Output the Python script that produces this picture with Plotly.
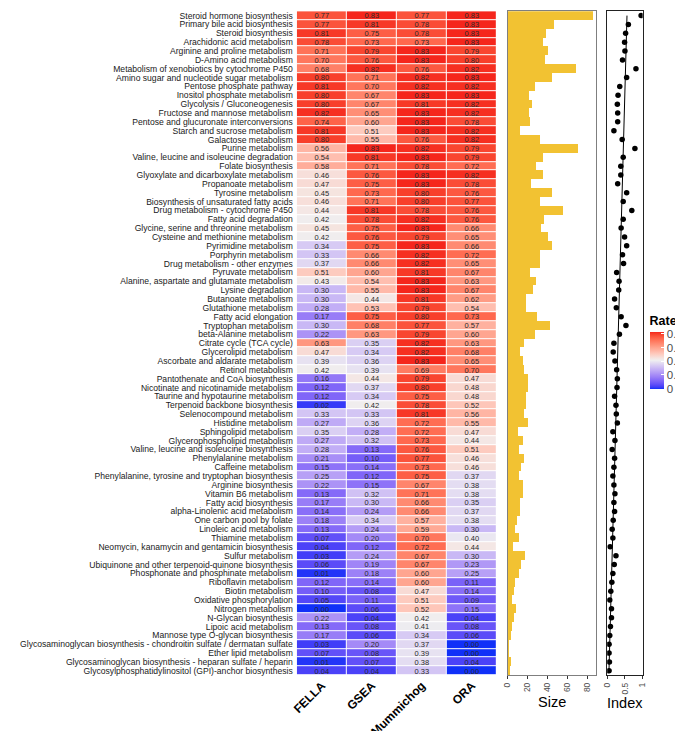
import numpy as np
import plotly.graph_objects as go

pathways = [
    "Steroid hormone biosynthesis", "Primary bile acid biosynthesis", "Steroid biosynthesis",
    "Arachidonic acid metabolism", "Arginine and proline metabolism", "D-Amino acid metabolism",
    "Metabolism of xenobiotics by cytochrome P450", "Amino sugar and nucleotide sugar metabolism",
    "Pentose phosphate pathway", "Inositol phosphate metabolism", "Glycolysis / Gluconeogenesis",
    "Fructose and mannose metabolism", "Pentose and glucuronate interconversions",
    "Starch and sucrose metabolism", "Galactose metabolism", "Purine metabolism",
    "Valine, leucine and isoleucine degradation", "Folate biosynthesis",
    "Glyoxylate and dicarboxylate metabolism", "Propanoate metabolism", "Tyrosine metabolism",
    "Biosynthesis of unsaturated fatty acids", "Drug metabolism - cytochrome P450",
    "Fatty acid degradation", "Glycine, serine and threonine metabolism",
    "Cysteine and methionine metabolism", "Pyrimidine metabolism", "Porphyrin metabolism",
    "Drug metabolism - other enzymes", "Pyruvate metabolism",
    "Alanine, aspartate and glutamate metabolism", "Lysine degradation", "Butanoate metabolism",
    "Glutathione metabolism", "Fatty acid elongation", "Tryptophan metabolism",
    "beta-Alanine metabolism", "Citrate cycle (TCA cycle)", "Glycerolipid metabolism",
    "Ascorbate and aldarate metabolism", "Retinol metabolism", "Pantothenate and CoA biosynthesis",
    "Nicotinate and nicotinamide metabolism", "Taurine and hypotaurine metabolism",
    "Terpenoid backbone biosynthesis", "Selenocompound metabolism", "Histidine metabolism",
    "Sphingolipid metabolism", "Glycerophospholipid metabolism",
    "Valine, leucine and isoleucine biosynthesis", "Phenylalanine metabolism",
    "Caffeine metabolism", "Phenylalanine, tyrosine and tryptophan biosynthesis",
    "Arginine biosynthesis", "Vitamin B6 metabolism", "Fatty acid biosynthesis",
    "alpha-Linolenic acid metabolism", "One carbon pool by folate", "Linoleic acid metabolism",
    "Thiamine metabolism", "Neomycin, kanamycin and gentamicin biosynthesis", "Sulfur metabolism",
    "Ubiquinone and other terpenoid-quinone biosynthesis",
    "Phosphonate and phosphinate metabolism", "Riboflavin metabolism", "Biotin metabolism",
    "Oxidative phosphorylation", "Nitrogen metabolism", "N-Glycan biosynthesis",
    "Lipoic acid metabolism", "Mannose type O-glycan biosynthesis",
    "Glycosaminoglycan biosynthesis - chondroitin sulfate / dermatan sulfate",
    "Ether lipid metabolism", "Glycosaminoglycan biosynthesis - heparan sulfate / heparin",
    "Glycosylphosphatidylinositol (GPI)-anchor biosynthesis",
]

methods = ["FELLA", "GSEA", "Mummichog", "ORA"]

fella = [0.77, 0.77, 0.81, 0.78, 0.71, 0.70, 0.68, 0.80, 0.81, 0.80, 0.80, 0.82, 0.74, 0.81, 0.80,
         0.56, 0.54, 0.58, 0.46, 0.47, 0.45, 0.46, 0.44, 0.42, 0.45, 0.42, 0.34, 0.33, 0.37, 0.51,
         0.43, 0.30, 0.30, 0.28, 0.17, 0.30, 0.22, 0.63, 0.47, 0.39, 0.42, 0.16, 0.12, 0.12, 0.02,
         0.33, 0.27, 0.35, 0.27, 0.28, 0.21, 0.15, 0.25, 0.22, 0.13, 0.17, 0.14, 0.18, 0.13, 0.07,
         0.04, 0.03, 0.06, 0.01, 0.12, 0.10, 0.05, 0.00, 0.22, 0.13, 0.17, 0.03, 0.07, 0.01, 0.04]
gsea = [0.83, 0.81, 0.75, 0.73, 0.79, 0.76, 0.82, 0.71, 0.70, 0.67, 0.67, 0.65, 0.60, 0.51, 0.55,
        0.83, 0.81, 0.71, 0.76, 0.75, 0.73, 0.71, 0.81, 0.78, 0.75, 0.76, 0.75, 0.66, 0.66, 0.60,
        0.54, 0.55, 0.44, 0.53, 0.75, 0.68, 0.63, 0.35, 0.34, 0.36, 0.39, 0.44, 0.37, 0.34, 0.42,
        0.33, 0.36, 0.28, 0.32, 0.13, 0.10, 0.14, 0.12, 0.15, 0.32, 0.30, 0.24, 0.34, 0.24, 0.20,
        0.12, 0.24, 0.19, 0.18, 0.14, 0.08, 0.11, 0.06, 0.04, 0.08, 0.06, 0.20, 0.08, 0.07, 0.04]
mummichog = [0.77, 0.78, 0.78, 0.73, 0.83, 0.83, 0.76, 0.82, 0.82, 0.83, 0.81, 0.83, 0.83, 0.83, 0.76,
             0.82, 0.83, 0.78, 0.83, 0.83, 0.80, 0.80, 0.78, 0.82, 0.83, 0.79, 0.83, 0.82, 0.82, 0.81,
             0.83, 0.83, 0.81, 0.79, 0.80, 0.77, 0.79, 0.82, 0.82, 0.83, 0.69, 0.79, 0.80, 0.75, 0.78,
             0.81, 0.72, 0.72, 0.73, 0.76, 0.77, 0.73, 0.75, 0.67, 0.71, 0.66, 0.66, 0.57, 0.59, 0.70,
             0.72, 0.67, 0.67, 0.60, 0.60, 0.47, 0.51, 0.52, 0.42, 0.41, 0.34, 0.37, 0.39, 0.38, 0.33]
ora = [0.83, 0.83, 0.83, 0.83, 0.79, 0.80, 0.82, 0.83, 0.82, 0.83, 0.82, 0.82, 0.78, 0.82, 0.82,
       0.79, 0.79, 0.72, 0.82, 0.78, 0.76, 0.77, 0.76, 0.76, 0.66, 0.65, 0.66, 0.72, 0.65, 0.67,
       0.63, 0.67, 0.62, 0.54, 0.73, 0.57, 0.60, 0.63, 0.68, 0.65, 0.70, 0.47, 0.48, 0.48, 0.52,
       0.56, 0.55, 0.47, 0.44, 0.51, 0.46, 0.46, 0.37, 0.38, 0.38, 0.35, 0.37, 0.38, 0.30, 0.40,
       0.44, 0.30, 0.23, 0.25, 0.11, 0.14, 0.09, 0.15, 0.04, 0.08, 0.06, 0.00, 0.00, 0.04, 0.00]

size = [85, 46, 38, 35, 40, 37, 68, 44, 27, 21, 24, 21, 22, 12, 32, 70, 35, 28, 35, 23, 44, 32, 55,
        36, 33, 40, 44, 32, 32, 22, 28, 25, 18, 18, 29, 42, 27, 16, 12, 15, 16, 20, 20, 18, 18, 16,
        20, 10, 15, 11, 16, 13, 11, 15, 15, 12, 12, 9, 7, 11, 5, 17, 13, 11, 7, 6, 4, 8, 6, 4, 3,
        1, 1, 3, 2]

index = [0.97, 0.60, 0.52, 0.49, 0.50, 0.43, 0.82, 0.55, 0.35, 0.30, 0.28, 0.29, 0.29, 0.18, 0.42,
         0.79, 0.45, 0.38, 0.38, 0.29, 0.55, 0.45, 0.70, 0.45, 0.39, 0.49, 0.55, 0.43, 0.46, 0.26,
         0.33, 0.32, 0.20, 0.25, 0.39, 0.53, 0.34, 0.18, 0.16, 0.21, 0.26, 0.28, 0.27, 0.20, 0.24,
         0.25, 0.28, 0.15, 0.21, 0.13, 0.20, 0.18, 0.15, 0.18, 0.21, 0.18, 0.20, 0.16, 0.13, 0.15,
         0.07, 0.24, 0.19, 0.15, 0.12, 0.09, 0.06, 0.11, 0.11, 0.08, 0.06, 0.04, 0.04, 0.05, 0.04]

size_ticks = [0, 20, 40, 60, 80]
index_ticks = [0, 0.5, 1]
index_ticktext = ["0", "0.5", "1"]
rate_ticks = [0, 0.2, 0.4, 0.6, 0.8]
rate_ticktext = ["0", "0.2", "0.4", "0.6", "0.8"]

# ---------- colour scale (Lab interpolation, like ggplot gradient2) ----------
def _lin(c):
    return c / 12.92 if c <= 0.04045 else ((c + 0.055) / 1.055) ** 2.4

def _delin(c):
    c = min(max(c, 0.0), 1.0)
    return 12.92 * c if c <= 0.0031308 else 1.055 * c ** (1 / 2.4) - 0.055

WHITE = (0.95047, 1.0, 1.08883)

def hex2lab(h):
    r, g, b = [_lin(int(h[i:i + 2], 16) / 255) for i in (1, 3, 5)]
    x = 0.4124 * r + 0.3576 * g + 0.1805 * b
    y = 0.2126 * r + 0.7152 * g + 0.0722 * b
    z = 0.0193 * r + 0.1192 * g + 0.9505 * b
    def f(t):
        return t ** (1 / 3) if t > 0.008856 else 7.787 * t + 16 / 116
    fx, fy, fz = f(x / WHITE[0]), f(y / WHITE[1]), f(z / WHITE[2])
    return (116 * fy - 16, 500 * (fx - fy), 200 * (fy - fz))

def lab2hex(lab):
    L, a, b = lab
    fy = (L + 16) / 116
    fx = fy + a / 500
    fz = fy - b / 200
    def finv(t):
        return t ** 3 if t ** 3 > 0.008856 else (t - 16 / 116) / 7.787
    x, y, z = finv(fx) * WHITE[0], finv(fy) * WHITE[1], finv(fz) * WHITE[2]
    r = 3.2406 * x - 1.5372 * y - 0.4986 * z
    g = -0.9689 * x + 1.8758 * y + 0.0415 * z
    bb = 0.0557 * x - 0.2040 * y + 1.0570 * z
    return "#%02x%02x%02x" % tuple(int(round(_delin(c) * 255)) for c in (r, g, bb))

LOW, MID, HIGH = "#1030f8", "#f0f0f0", "#f5261c"
ZMIN, ZMAX, ZMID = 0.0, 0.83, 0.42
lab_low, lab_mid, lab_high = hex2lab(LOW), hex2lab(MID), hex2lab(HIGH)
colorscale = []
for t in np.linspace(0, 1, 41):
    v = ZMIN + t * (ZMAX - ZMIN)
    if v <= ZMID:
        f = (v - ZMIN) / (ZMID - ZMIN)
        lab = tuple(lab_low[i] + f * (lab_mid[i] - lab_low[i]) for i in range(3))
    else:
        f = (v - ZMID) / (ZMAX - ZMID)
        lab = tuple(lab_mid[i] + f * (lab_high[i] - lab_mid[i]) for i in range(3))
    colorscale.append([float(t), lab2hex(lab)])

# ---------- geometry helpers ----------
W, H = 683, 731
def px(x):
    return x / W
def py(y):
    return 1 - y / H

row_top, row_bot = 2.2, 672.7
ydom = [py(row_bot), py(row_top)]
n = len(pathways)
FONT = "Liberation Sans, Arial, Helvetica, sans-serif"

z = [[fella[i], gsea[i], mummichog[i], ora[i]] for i in range(n)]
txt = [["%.2f" % v for v in row] for row in z]

fig = go.Figure()
fig.add_trace(go.Heatmap(
    z=z, x=methods, y=pathways, text=txt, texttemplate="%{text}",
    textfont=dict(size=7.5, color="#2a2a2a", family=FONT),
    colorscale=colorscale, zmin=ZMIN, zmax=ZMAX, xgap=1, ygap=1,
    colorbar=dict(
        title=dict(text="<b>Rate</b>", side="top", font=dict(size=12.5, color="black", family=FONT)),
        x=px(645), xanchor="left", y=py(345), yanchor="middle",
        len=76, lenmode="pixels", thickness=14, thicknessmode="pixels",
        xpad=0, ypad=0, outlinewidth=0,
        tickvals=rate_ticks, ticktext=rate_ticktext, ticks="inside", ticklen=3,
        tickcolor="white", tickfont=dict(size=11.5, color="#4d4d4d", family=FONT),
    ),
    xaxis="x", yaxis="y",
))

fig.add_trace(go.Bar(
    x=size, y=pathways, orientation="h", width=1.0,
    marker=dict(color="#f2c232", line=dict(width=0)),
    xaxis="x2", yaxis="y2", showlegend=False,
))

rows = np.arange(1, n + 1)
coef = np.polyfit(rows, np.array(index), 1)
fit = np.polyval(coef, rows)

fig.add_trace(go.Scatter(
    x=fit, y=pathways, mode="lines", line=dict(color="black", width=1),
    xaxis="x3", yaxis="y3", showlegend=False,
))
fig.add_trace(go.Scatter(
    x=index, y=pathways, mode="markers", marker=dict(color="black", size=5.5),
    xaxis="x3", yaxis="y3", showlegend=False,
))

yrange = [n - 0.5, -0.5]
common_y = dict(domain=ydom, range=yrange, type="category",
                categoryorder="array", categoryarray=pathways)

fig.update_layout(
    width=W, height=H, margin=dict(l=0, r=0, t=0, b=0),
    paper_bgcolor="white", plot_bgcolor="white", bargap=0,
    showlegend=False,
    font=dict(family=FONT, color="black"),
    xaxis=dict(domain=[px(287), px(490)], anchor="y", side="bottom",
               tickangle=-45, ticks="", showline=False, showgrid=False, zeroline=False,
               tickfont=dict(size=12, color="black", family=FONT, weight="bold")),
    yaxis=dict(**common_y, anchor="x", tickmode="array", tickvals=pathways, ticktext=pathways,
               ticks="", showline=False, showgrid=False, zeroline=False,
               ticklabelstandoff=3,
               tickfont=dict(size=8.6, color="#1a1a1a", family=FONT)),
    xaxis2=dict(domain=[px(501), px(591)], anchor="y2", range=[0, 89],
                tickvals=size_ticks, tickangle=-90, ticks="outside", ticklen=3,
                tickcolor="#333333", showgrid=False, zeroline=False,
                showline=True, mirror=True, linecolor="#7f7f7f", linewidth=1,
                tickfont=dict(size=8.5, color="#4d4d4d", family=FONT)),
    yaxis2=dict(**common_y, anchor="x2", showticklabels=False, ticks="",
                showline=True, mirror=True, linecolor="#7f7f7f", linewidth=1, showgrid=False),
    xaxis3=dict(domain=[px(602), px(638)], anchor="y3", range=[-0.015, 1.015],
                tickvals=index_ticks, ticktext=index_ticktext, tickangle=-90,
                ticks="outside", ticklen=3, tickcolor="#333333", showgrid=False, zeroline=False,
                showline=True, mirror=True, linecolor="#222222", linewidth=1,
                tickfont=dict(size=8.5, color="#4d4d4d", family=FONT)),
    yaxis3=dict(**common_y, anchor="x3", showticklabels=False, ticks="",
                showline=True, mirror=True, linecolor="#222222", linewidth=1, showgrid=False),
    annotations=[
        dict(text="Size", x=px(546), y=py(700), xref="paper", yref="paper",
             showarrow=False, xanchor="center", yanchor="middle",
             font=dict(size=14.5, color="black", family=FONT)),
        dict(text="Index", x=px(620), y=py(701), xref="paper", yref="paper",
             showarrow=False, xanchor="center", yanchor="middle",
             font=dict(size=14.5, color="black", family=FONT)),
    ],
)

fig.write_html("out.html")
